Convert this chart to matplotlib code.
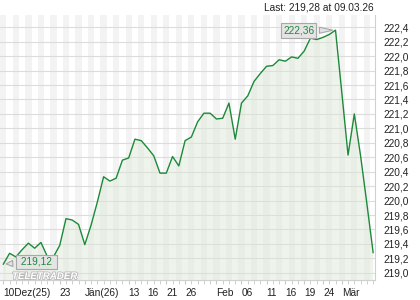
import matplotlib
matplotlib.use("Agg")
import matplotlib.pyplot as plt
import matplotlib.patheffects as pe
import numpy as np

# Schlusskurse, ein Wert pro Handelstag (10.12.2025 - 09.03.2026)
kurse = [219.12, 219.27, 219.22, 219.32, 219.41, 219.34, 219.42, 219.23, 219.22, 219.38,
         219.75, 219.73, 219.67, 219.39, 219.66, 219.98, 220.33, 220.27, 220.31, 220.56,
         220.59, 220.85, 220.83, 220.73, 220.62, 220.38, 220.38, 220.61, 220.48, 220.83,
         220.88, 221.09, 221.21, 221.21, 221.13, 221.14, 221.35, 220.85, 221.35, 221.45,
         221.65, 221.76, 221.86, 221.87, 221.95, 221.93, 221.99, 221.97, 222.07, 222.25,
         222.23, 222.26, 222.30, 222.36, 221.50, 220.63, 221.20, 220.62, 219.96, 219.28]

# Beschriftung der x-Achse (Position = Handelstag-Index)
tick_pos = [0, 9, 13, 20, 23, 26, 29, 34, 38, 42, 45, 48, 51, 54]
tick_txt = ["10Dez(25)", "23", "Jän(26)", "13", "16", "21", "26",
            "Feb", "06", "11", "16", "19", "24", "Mär"]

y_ticks = np.round(np.arange(219.0, 222.41, 0.2), 1)

schrift = "Liberation Sans"
gruen = "#1c8a3a"
fs = 7.3

x = np.arange(len(kurse))
fig = plt.figure(figsize=(4.2, 3.0), dpi=100)
ax = fig.add_axes([0.0, 20 / 300, 375 / 420, 265 / 300])

# Hintergrundstreifen
for i in range(0, len(kurse) + 1, 2):
    ax.axvspan(i - 0.5, i + 0.5, color="#f3f3f3", lw=0, zorder=0)
for y in y_ticks:
    ax.axhline(y, color="#dcdcdc", lw=0.8, zorder=1)

ax.fill_between(x, kurse, 218.0, color="#dbe8d6", alpha=0.45, lw=0, zorder=2)
ax.plot(x, kurse, color=gruen, lw=1.0, zorder=3)

ax.set_xlim(-0.53, 59.3)
ax.set_ylim(218.9, 222.57)

ax.yaxis.tick_right()
ax.set_yticks(y_ticks)
ax.set_yticklabels([f"{v:.1f}".replace(".", ",") for v in y_ticks],
                   fontsize=fs, family=schrift, color="#222222")
ax.tick_params(axis="y", length=0, pad=6)

ax.set_xticks(x, minor=True)
ax.set_xticks(tick_pos)
ax.set_xticklabels(tick_txt, fontsize=fs, family=schrift, color="#222222")
plt.setp(ax.get_xticklabels(), ha="left")
ax.tick_params(axis="x", which="both", length=3, color="#c8c8c8", pad=3)

for s in ["top", "left"]:
    ax.spines[s].set_visible(False)
for s in ["right", "bottom"]:
    ax.spines[s].set_color("#d0d0d0")
    ax.spines[s].set_linewidth(0.8)

# Markierungen Start- und Höchstwert
box = dict(boxstyle="square,pad=0.22", fc="#e4e4e4", ec="#a8a8a8", lw=0.8)
pfeil = dict(arrowstyle="wedge,tail_width=0.6", fc="#e4e4e4", ec="#a8a8a8", lw=0.8)
i_max = int(np.argmax(kurse))
ax.annotate(f"{kurse[i_max]:.2f}".replace(".", ","), xy=(i_max, kurse[i_max]),
            xytext=(47.1, 222.357), ha="center", va="center", fontsize=fs,
            family=schrift, color=gruen, bbox=box, arrowprops=pfeil, zorder=5)
ax.annotate(" " + f"{kurse[0]:.2f}".replace(".", ",") + " ", xy=(0, kurse[0]),
            xytext=(5.3, 219.15), ha="center", va="center", fontsize=fs,
            family=schrift, color=gruen, bbox=dict(box), arrowprops=pfeil, zorder=5)

fig.text(12 / 420, 1 - 276 / 300, "TELETRADER", fontsize=7, fontweight="bold",
         style="italic", family=schrift, color="white", va="center",
         path_effects=[pe.withStroke(linewidth=1.2, foreground="#b8b8b8")])

fig.text(374 / 420, 1 - 7 / 300, "Last: 219,28 at 09.03.26", ha="right", va="center",
         fontsize=fs, family=schrift, color="#222222")

fig.savefig("out.png", dpi=100)
